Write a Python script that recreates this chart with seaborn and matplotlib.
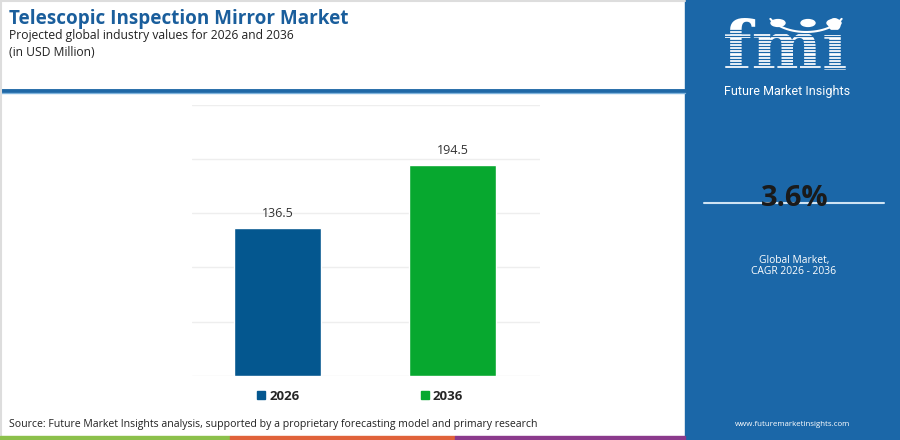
import matplotlib
matplotlib.use("Agg")
import matplotlib.pyplot as plt
import matplotlib.patches as mpatches
from matplotlib.lines import Line2D
import seaborn as sns
import pandas as pd
import numpy as np

# ---- data ----
years = ["2026", "2036"]
values = [136.5, 194.5]
bar_colors = ["#04578f", "#07a82f"]
yticks = [0, 50, 100, 150, 200, 250]
title = "Telescopic Inspection Mirror Market"
subtitle1 = "Projected global industry values for 2026 and 2036"
subtitle2 = "(in USD Million)"
source = "Source: Future Market Insights analysis, supported by a proprietary forecasting model and primary research"
cagr = "3.6%"
cagr_label1 = "Global Market,"
cagr_label2 = "CAGR 2026 - 2036"
url = "www.futuremarketinsights.com"

sns.set_theme(style="white")
plt.rcParams["font.family"] = ["Open Sans", "DejaVu Sans"]

W, H = 900, 440
fig = plt.figure(figsize=(9, 4.4), dpi=100)
fig.patch.set_facecolor("white")

def fx(px):
    return px / W

def fy(py):
    return 1 - py / H

# ---- right panel ----
panel_col = "#1b67a8"
fig.patches.append(mpatches.Rectangle((fx(685), 0), fx(900 - 685), 1,
                                      transform=fig.transFigure, color=panel_col, zorder=0))
# header line
fig.add_artist(Line2D([0, fx(685)], [fy(91), fy(91)], transform=fig.transFigure,
                      color="#1f68a6", lw=3.5, zorder=1))
fig.add_artist(Line2D([0, fx(685)], [fy(93.5), fy(93.5)], transform=fig.transFigure,
                      color="#7fb3dc", lw=1, zorder=1))
# light border
fig.add_artist(Line2D([0, fx(685)], [fy(1), fy(1)], transform=fig.transFigure,
                      color="#dddddd", lw=1.5, zorder=1))
fig.add_artist(Line2D([fx(1), fx(1)], [fy(0), fy(436)], transform=fig.transFigure,
                      color="#dddddd", lw=1.5, zorder=1))

# bottom colored strip
strip = [(0, 230, "#8cc04b"), (230, 455, "#e0623a"), (455, 685, "#8b3a8c")]
for x0, x1, c in strip:
    fig.patches.append(mpatches.Rectangle((fx(x0), 0), fx(x1 - x0), 4 / H,
                                          transform=fig.transFigure, color=c, zorder=1))

# title texts
fig.text(fx(9), fy(19), title, fontsize=13.6, fontweight="bold", color="#1a5e9c",
         ha="left", va="center")
fig.text(fx(9), fy(35), subtitle1, fontsize=8.7, color="#222222", ha="left", va="center")
fig.text(fx(9), fy(52), subtitle2, fontsize=8.7, color="#222222", ha="left", va="center")
fig.text(fx(9), fy(424), source, fontsize=7.6, color="#222222", ha="left", va="center")

# logo
fig.text(fx(785), fy(50), "fmi", fontsize=48, fontweight="bold", color="white",
         family="DejaVu Serif", ha="center", va="center", zorder=3)
for yy in np.arange(30, 76, 3.2):
    fig.add_artist(Line2D([fx(715), fx(860)], [fy(yy), fy(yy)], transform=fig.transFigure,
                          color=panel_col, lw=0.9, zorder=4))
for cx in [778, 808, 834]:
    fig.patches.append(mpatches.Circle((fx(cx), fy(23)), 7 / W, transform=fig.transFigure,
                                       color="white", zorder=5))
t = np.linspace(np.pi * 0.15, np.pi * 0.85, 30)
fig.add_artist(Line2D(fx(806 + 40 * np.cos(t)), fy(8 + 24 * np.sin(t)),
                      transform=fig.transFigure, color="white", lw=1.5, zorder=5))
fig.text(fx(787), fy(91), "Future Market Insights", fontsize=9, color="white",
         family="Roboto", ha="center", va="center", zorder=5)

# CAGR
fig.add_artist(Line2D([fx(704), fx(884)], [fy(203), fy(203)], transform=fig.transFigure,
                      color="#cfe3f3", lw=1.5, zorder=2))
fig.text(fx(795), fy(198), cagr, fontsize=21, fontweight="bold", color="#1a1a1a",
         ha="center", va="center", zorder=3)
fig.text(fx(794), fy(260), cagr_label1, fontsize=7.4, color="white", ha="center", va="center")
fig.text(fx(794), fy(272), cagr_label2, fontsize=7.4, color="white", ha="center", va="center")
fig.text(fx(793), fy(424), url, fontsize=5.7, color="white", ha="center", va="center")

# ---- chart ----
ax = fig.add_axes([fx(192), 1 - 376 / H, fx(540 - 192), (376 - 104.7) / H])
df = pd.DataFrame({"year": years, "value": values})
sns.barplot(data=df, x="year", y="value", hue="year", palette=bar_colors,
            width=0.5, legend=False, ax=ax, saturation=1)
ax.set_xlim(-0.49, 1.5)
ax.set_ylim(0, 250)
ax.set_yticks(yticks)
ax.yaxis.grid(True, color="#eeeeee", lw=1)
ax.set_axisbelow(True)
for s in ax.spines.values():
    s.set_visible(False)
ax.set_xticks([])
ax.set_yticklabels([])
ax.tick_params(left=False, bottom=False)
ax.set_xlabel("")
ax.set_ylabel("")
ax.patch.set_alpha(0)
for i, v in enumerate(values):
    ax.annotate(f"{v}", (i, v), xytext=(0, 6), textcoords="offset points",
                ha="center", va="bottom", fontsize=9, color="#333333")

# legend
handles = [mpatches.Patch(color=c, label=y) for y, c in zip(years, bar_colors)]
leg = fig.legend(handles=handles, loc="center", bbox_to_anchor=(fx(360), fy(396)),
                 ncol=2, frameon=False, handlelength=0.6, handleheight=0.6,
                 handletextpad=0.3, columnspacing=9.2,
                 prop={"weight": "bold", "size": 9.5})

fig.savefig("out.png", dpi=100)
